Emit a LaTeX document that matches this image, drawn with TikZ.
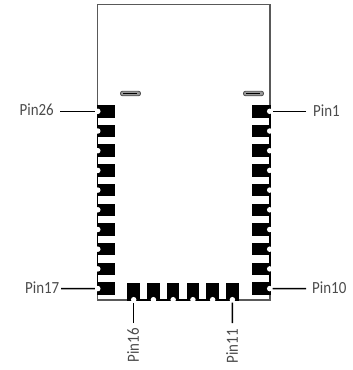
\documentclass[tikz,border=0pt]{standalone}
\usepackage{fontspec}
\setmainfont[FakeStretch=.88]{Carlito}
\begin{document}
\begin{tikzpicture}[x=1pt,y=-1pt,
                pad/.style={fill=black,inner sep=0pt,minimum width=17.5pt,minimum height=12.5pt},
                padv/.style={fill=black,inner sep=0pt,minimum width=12.5pt,minimum height=17pt},
                notch/.style={circle,fill=white,inner sep=0pt,minimum size=5.5pt},
                lbl/.style={inner sep=0pt,text=black!70,font=\fontsize{17}{17}\selectfont},
                lead/.style={line width=1.5pt},
                slot/.style={rounded corners=2pt,draw=black!70,fill=black!40,line width=.8pt,inner sep=0pt,minimum width=20pt,minimum height=4.5pt}]
  \useasboundingbox (0,0) rectangle (353,370);
  % outline of the module
  \draw[black!65,line width=1.2pt] (97.5,105) -- (97.5,4.5) -- (270,4.5) -- (270,105);
  \draw[black!65,line width=1.2pt] (97.5,295) -- (97.5,300) -- (127,300);
  \draw[black!65,line width=1.2pt] (270,295) -- (270,300) -- (239,300);
  \draw[black,line width=1.5pt] (97.5,105) -- (97.5,295);
  \draw[black,line width=1.5pt] (270,105) -- (270,295);
  \draw[black,line width=1.5pt] (127,300) -- (239,300);
  % antenna slots
  \node[slot] (slotl) at (130.5,93.5) {};
  \node[slot] (slotr) at (253.5,93.5) {};
  \draw[black,line width=.5pt] (slotl.west) ++(3,0) -- ++(14,0);
  \draw[black,line width=.5pt] (slotr.west) ++(3,0) -- ++(14,0);
  % pads
  \foreach \i in {0,...,9} {
    \pgfmathtruncatemacro{\numl}{26-\i}
    \pgfmathtruncatemacro{\numr}{1+\i}
    \node[pad] (p\numl) at (106,111.3+19.7*\i) {};
    \node[notch] (n\numl) at (97.8,111.3+19.7*\i) {};
    \node[pad] (p\numr) at (261.2,111.3+19.7*\i) {};
    \node[notch] (n\numr) at (269.7,111.3+19.7*\i) {};
  }
  \foreach \i in {0,...,5} {
    \pgfmathtruncatemacro{\numb}{16-\i}
    \node[padv] (p\numb) at (133.7+19.74*\i,291.5) {};
    \node[notch] (n\numb) at (133.7+19.74*\i,299.7) {};
  }
  % labels
  \node[lbl,anchor=east] (l26) at (54,110) {Pin26};
  \node[lbl,anchor=east] (l17) at (59.5,288) {Pin17};
  \node[lbl,anchor=west] (l1) at (313,111) {Pin1};
  \node[lbl,anchor=west] (l10) at (312,288) {Pin10};
  \node[lbl,anchor=east,rotate=90] (l16) at (133,328) {Pin16};
  \node[lbl,anchor=east,rotate=90] (l11) at (232,329) {Pin11};
  \coordinate (e26) at (60,111.3);
  \coordinate (e17) at (61,288.6);
  \coordinate (e1) at (306,111.3);
  \coordinate (e10) at (306,288.6);
  \coordinate (e16) at (133.7,323);
  \coordinate (e11) at (232.4,323);
  \draw[lead] (e26) -- (n26);
  \draw[lead] (e17) -- (n17);
  \draw[lead] (e1) -- (n1);
  \draw[lead] (e10) -- (n10);
  \draw[lead] (e16) -- (n16);
  \draw[lead] (e11) -- (n11);
\end{tikzpicture}
\end{document}
